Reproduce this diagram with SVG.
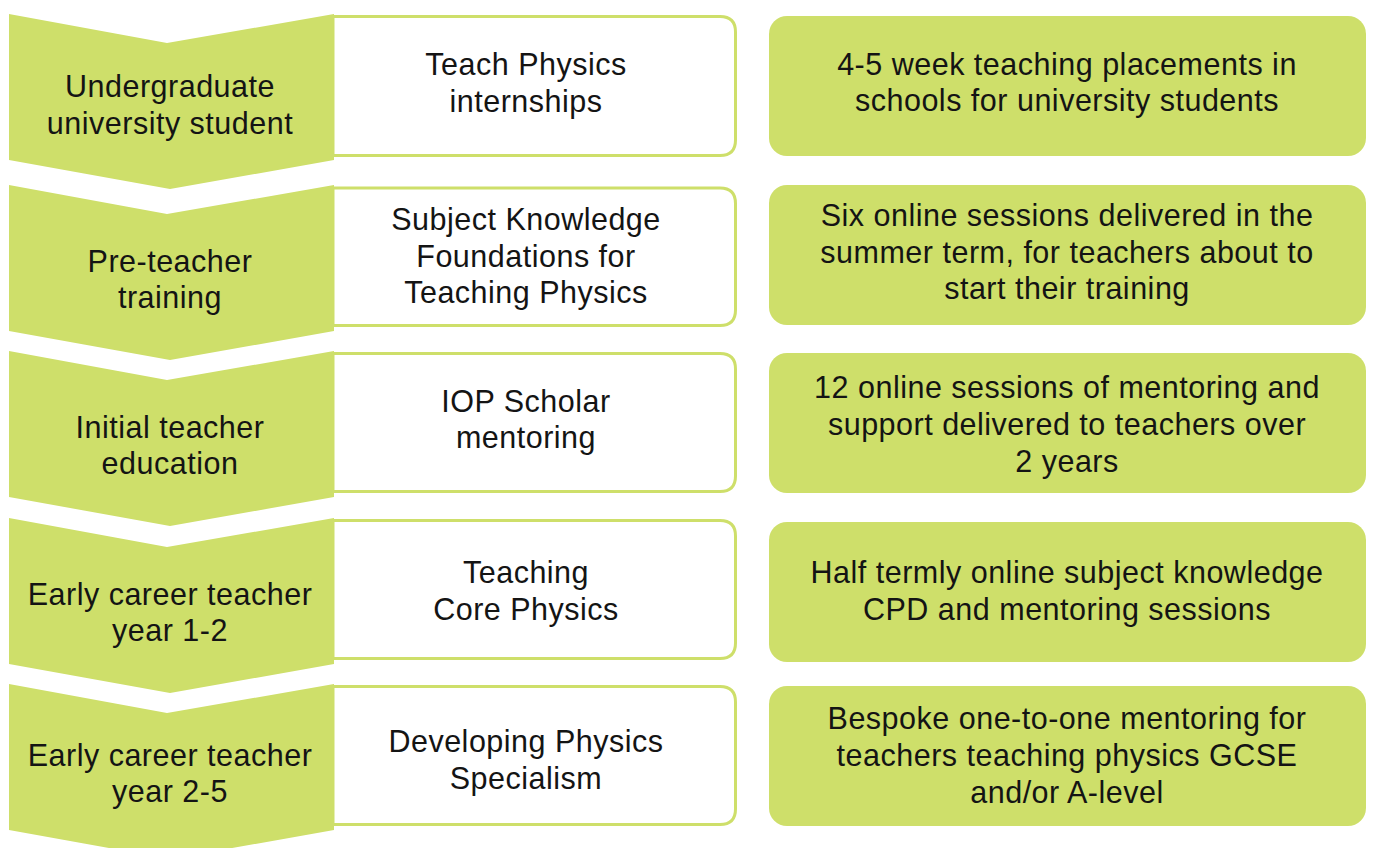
<svg xmlns="http://www.w3.org/2000/svg" width="1373" height="848" viewBox="0 0 1373 848">
  <style>
    .bg { fill: #ffffff; }
    .chev { fill: #cedf6a; }
    .prog { fill: #ffffff; stroke: #cedf6a; stroke-width: 3; }
    .desc { fill: #cedf6a; }
    text { font-family: "Liberation Sans", Arial, sans-serif; font-size: 30.5px; letter-spacing: 0.5px; fill: #141414; text-anchor: middle; }
  </style>
  <rect class="bg" x="0" y="0" width="1373" height="848"/>

  <!-- Stage 1 -->
  <g id="stage1">
    <path class="prog" d="M333,16.5 H720 Q735.5,16.5 735.5,32 V140 Q735.5,155.5 720,155.5 H333 Z"/>
    <path class="chev" d="M9,14 L167,43 L334,14 L334,160 L170,189 L9,160 Z"/>
    <rect class="desc" x="769" y="16" width="597" height="140" rx="18"/>
    <text><tspan x="170" y="97">Undergraduate</tspan><tspan x="170" y="134">university student</tspan></text>
    <text><tspan x="526" y="75">Teach Physics</tspan><tspan x="526" y="112">internships</tspan></text>
    <text><tspan x="1067" y="75">4-5 week teaching placements in</tspan><tspan x="1067" y="111">schools for university students</tspan></text>
  </g>

  <!-- Stage 2 -->
  <g id="stage2">
    <path class="prog" d="M333,188 H720 Q735.5,188 735.5,203.5 V310 Q735.5,325.5 720,325.5 H333 Z"/>
    <path class="chev" d="M9,185 L167,214 L334,185 L334,331 L170,360 L9,331 Z"/>
    <rect class="desc" x="769" y="185" width="597" height="140" rx="18"/>
    <text><tspan x="170" y="272">Pre-teacher</tspan><tspan x="170" y="308">training</tspan></text>
    <text><tspan x="526" y="230">Subject Knowledge</tspan><tspan x="526" y="266.5">Foundations for</tspan><tspan x="526" y="303">Teaching Physics</tspan></text>
    <text><tspan x="1067" y="226">Six online sessions delivered in the</tspan><tspan x="1067" y="262.5">summer term, for teachers about to</tspan><tspan x="1067" y="299">start their training</tspan></text>
  </g>

  <!-- Stage 3 -->
  <g id="stage3">
    <path class="prog" d="M333,353.5 H720 Q735.5,353.5 735.5,369 V476 Q735.5,491.5 720,491.5 H333 Z"/>
    <path class="chev" d="M9,351 L167,380 L334,351 L334,497 L170,526 L9,497 Z"/>
    <rect class="desc" x="769" y="353" width="597" height="140" rx="18"/>
    <text><tspan x="170" y="438">Initial teacher</tspan><tspan x="170" y="474">education</tspan></text>
    <text><tspan x="526" y="411.5">IOP Scholar</tspan><tspan x="526" y="447.5">mentoring</tspan></text>
    <text><tspan x="1067" y="398">12 online sessions of mentoring and</tspan><tspan x="1067" y="435">support delivered to teachers over</tspan><tspan x="1067" y="472">2 years</tspan></text>
  </g>

  <!-- Stage 4 -->
  <g id="stage4">
    <path class="prog" d="M333,520.5 H720 Q735.5,520.5 735.5,536 V643 Q735.5,658.5 720,658.5 H333 Z"/>
    <path class="chev" d="M9,518 L167,547 L334,518 L334,664 L170,693 L9,664 Z"/>
    <rect class="desc" x="769" y="522" width="597" height="140" rx="18"/>
    <text><tspan x="170" y="605">Early career teacher</tspan><tspan x="170" y="641">year 1-2</tspan></text>
    <text><tspan x="526" y="583">Teaching</tspan><tspan x="526" y="620">Core Physics</tspan></text>
    <text><tspan x="1067" y="583">Half termly online subject knowledge</tspan><tspan x="1067" y="620">CPD and mentoring sessions</tspan></text>
  </g>

  <!-- Stage 5 -->
  <g id="stage5">
    <path class="prog" d="M333,686.5 H720 Q735.5,686.5 735.5,702 V809 Q735.5,824.5 720,824.5 H333 Z"/>
    <path class="chev" d="M9,684 L167,713 L334,684 L334,830 L170,859 L9,830 Z"/>
    <rect class="desc" x="769" y="686" width="597" height="140" rx="18"/>
    <text><tspan x="170" y="766">Early career teacher</tspan><tspan x="170" y="802">year 2-5</tspan></text>
    <text><tspan x="526" y="752">Developing Physics</tspan><tspan x="526" y="789">Specialism</tspan></text>
    <text><tspan x="1067" y="728.5">Bespoke one-to-one mentoring for</tspan><tspan x="1067" y="765.5">teachers teaching physics GCSE</tspan><tspan x="1067" y="802.5">and/or A-level</tspan></text>
  </g>

  <!-- no separate connectors: the chevrons carry the flow -->
  <g id="connectors"/>
</svg>
